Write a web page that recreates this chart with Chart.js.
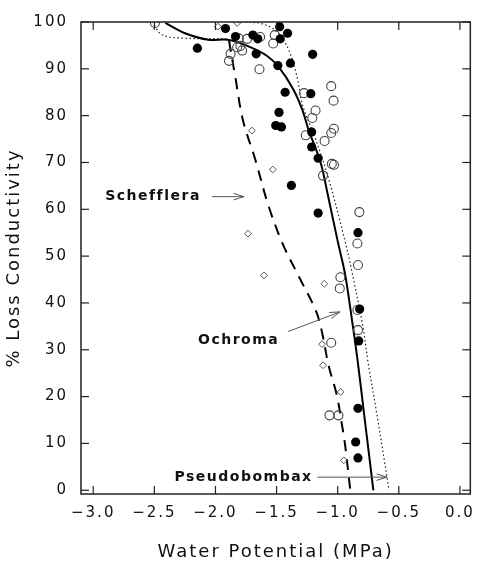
<!DOCTYPE html>
<html>
<head>
<meta charset="utf-8">
<script src="https://cdn.jsdelivr.net/npm/chart.js@4"></script>
<style>
  body { margin: 0; background: #fff; }
</style>
</head>
<body>
<canvas id="myChart" width="482" height="565"></canvas>
<script>
// filled circles (Ochroma)
let ochromaX = [-2.148, -1.918, -1.836, -1.694, -1.654, -1.667, -1.475, -1.47, -1.41, -1.49, -1.387, -1.205, -1.43, -1.22, -1.48, -1.507, -1.46, -1.213, -1.213, -1.16, -1.379, -1.16, -0.834, -0.82, -0.828, -0.834, -0.853, -0.834]
let ochromaY = [94.4, 98.6, 96.9, 97.2, 96.4, 93.2, 99.0, 96.4, 97.6, 90.7, 91.2, 93.1, 85.0, 84.7, 80.7, 77.9, 77.6, 76.5, 73.3, 70.9, 65.1, 59.2, 55.0, 38.7, 31.9, 17.5, 10.3, 6.9]

// open circles (Pseudobombax)
let pseudoX = [-2.495, -1.81, -1.74, -1.635, -1.515, -1.528, -1.822, -1.796, -1.782, -1.876, -1.889, -1.64, -1.275, -1.053, -1.034, -1.181, -1.208, -1.261, -1.053, -1.031, -1.107, -1.048, -1.03, -1.12, -0.823, -0.839, -0.834, -0.978, -0.983, -0.839, -0.834, -1.053, -1.067, -0.994]
let pseudoY = [99.8, 96.5, 96.4, 96.8, 97.2, 95.4, 94.6, 94.9, 93.9, 93.2, 91.7, 89.9, 84.8, 86.3, 83.2, 81.1, 79.5, 75.8, 76.3, 77.2, 74.6, 69.7, 69.5, 67.2, 59.4, 52.7, 48.1, 45.5, 43.1, 38.5, 34.2, 31.5, 16.0, 16.0]

// diamonds (Schefflera)
let scheffX = [-1.98, -1.822, -1.702, -1.531, -1.734, -1.603, -1.109, -1.128, -1.12, -0.975, -0.949]
let scheffY = [99.0, 99.8, 76.8, 68.5, 54.8, 45.9, 44.1, 31.2, 26.7, 21.0, 6.4]

// fitted curves
let solidX = [-2.41, -2.26, -2.06, -1.90, -1.74, -1.58, -1.48, -1.365, -1.29, -1.24, -1.14, -1.08, -1.0, -0.94, -0.887, -0.837, -0.78, -0.708]
let solidY = [99.8, 97.7, 96.2, 96.2, 94.9, 92.8, 90.3, 85.7, 81.3, 77.1, 70.0, 63.0, 53.2, 46.2, 37.1, 27.7, 15.4, 0]

let dottedX = [-2.5, -2.44, -2.3, -1.89, null, -1.82, -1.645, -1.5, -1.4, -1.33, -1.288, -1.181, -1.074, -0.94, -0.874, -0.794, -0.754, -0.674, -0.58]
let dottedY = [99.3, 97.3, 96.6, 96.4, null, 100, 99.8, 98.0, 94.0, 88.0, 82.3, 75.0, 66.5, 53.2, 45.5, 35.0, 27.7, 15.4, 0]

let dashedX = [-1.889, -1.836, -1.775, -1.675, -1.568, -1.448, -1.315, -1.181, -1.133, -1.074, -1.007, -0.967, -0.94, -0.897]
let dashedY = [96.0, 88.0, 79.0, 70.7, 60.9, 52.5, 45.5, 38.5, 34.3, 26.6, 20.3, 14.3, 9.8, 0]

let xTicks = [-3.0, -2.5, -2.0, -1.5, -1.0, -0.5, 0.0]
let yTicks = [0, 10, 20, 30, 40, 50, 60, 70, 80, 90, 100]

let puntos = function (xs, ys) {
    return xs.map((x, i) => x === null ? { x: NaN, y: NaN } : { x: x, y: ys[i] })
}

// labels with arrows, in data units
let notas = [
    { texto: 'Schefflera', x: -2.511, y: 62.7, align: 'center', desde: [-2.03, 62.7], hasta: [-1.766, 62.7] },
    { texto: 'Ochroma', x: -2.143, y: 32.0, align: 'left', desde: [-1.405, 33.9], hasta: [-0.981, 38.1] },
    { texto: 'Pseudobombax', x: -1.205, y: 2.8, align: 'right', desde: [-1.165, 2.8], hasta: [-0.596, 2.8] }
]

let marcos = {
    id: 'marcos',
    beforeDraw: function (chart) {
        chart.ctx.letterSpacing = '2px'
    },
    afterDraw: function (chart) {
        let ctx = chart.ctx
        let a = chart.chartArea
        let xs = chart.scales.x
        let ys = chart.scales.y
        let linea = function (x1, y1, x2, y2) {
            ctx.beginPath(); ctx.moveTo(x1, y1); ctx.lineTo(x2, y2); ctx.stroke()
        }
        ctx.save()
        ctx.strokeStyle = '#222'
        ctx.lineWidth = 1.5
        ctx.strokeRect(a.left, a.top, a.right - a.left, a.bottom - a.top)
        ctx.lineWidth = 1.2
        xTicks.forEach(v => {
            let p = xs.getPixelForValue(v)
            linea(p, a.bottom, p, a.bottom - 8)
            linea(p, a.top, p, a.top + 8)
        })
        yTicks.forEach(v => {
            let p = ys.getPixelForValue(v)
            linea(a.left, p, a.left + 8, p)
            linea(a.right, p, a.right - 8, p)
        })

        ctx.font = 'bold 14px "DejaVu Sans"'
        ctx.letterSpacing = '1.5px'
        ctx.fillStyle = '#111'
        ctx.textBaseline = 'middle'
        notas.forEach(n => {
            ctx.textAlign = n.align
            ctx.fillText(n.texto, xs.getPixelForValue(n.x), ys.getPixelForValue(n.y))
            let x1 = xs.getPixelForValue(n.desde[0]), y1 = ys.getPixelForValue(n.desde[1])
            let x2 = xs.getPixelForValue(n.hasta[0]), y2 = ys.getPixelForValue(n.hasta[1])
            ctx.strokeStyle = '#555'
            ctx.lineWidth = 1
            linea(x1, y1, x2, y2)
            let ang = Math.atan2(y2 - y1, x2 - x1)
            linea(x2, y2, x2 - 11 * Math.cos(ang - 0.3), y2 - 11 * Math.sin(ang - 0.3))
            linea(x2, y2, x2 - 11 * Math.cos(ang + 0.3), y2 - 11 * Math.sin(ang + 0.3))
        })
        ctx.restore()
    }
}

let miGrafico = new Chart('myChart', {
    type: 'scatter',
    data: {
        datasets: [
            {
                label: 'Ochroma',
                data: puntos(ochromaX, ochromaY),
                pointRadius: 4.6,
                pointBackgroundColor: '#000',
                pointBorderColor: '#000',
                pointBorderWidth: 0,
                order: 1
            },
            {
                label: 'Pseudobombax',
                data: puntos(pseudoX, pseudoY),
                pointRadius: 4.5,
                pointBackgroundColor: 'rgba(0,0,0,0)',
                pointBorderColor: '#444',
                pointBorderWidth: 1.1,
                order: 1
            },
            {
                label: 'Schefflera',
                data: puntos(scheffX, scheffY),
                pointStyle: 'rectRot',
                pointRadius: 3.4,
                pointBackgroundColor: 'rgba(0,0,0,0)',
                pointBorderColor: '#555',
                pointBorderWidth: 1,
                order: 1
            },
            {
                label: 'curva Ochroma',
                data: puntos(solidX, solidY),
                showLine: true,
                borderColor: '#000',
                borderWidth: 2,
                pointRadius: 0,
                tension: 0.35,
                order: 2
            },
            {
                label: 'curva Pseudobombax',
                data: puntos(dottedX, dottedY),
                showLine: true,
                spanGaps: false,
                borderColor: '#222',
                borderWidth: 1.2,
                borderDash: [1.5, 2.5],
                pointRadius: 0,
                tension: 0.35,
                order: 2
            },
            {
                label: 'curva Schefflera',
                data: puntos(dashedX, dashedY),
                showLine: true,
                borderColor: '#000',
                borderWidth: 2,
                borderDash: [11, 8],
                pointRadius: 0,
                tension: 0.35,
                order: 2
            }
        ]
    },
    options: {
        responsive: false,
        animation: false,
        devicePixelRatio: 1,
        layout: { padding: { top: 15, right: 4, left: 0, bottom: 0 } },
        plugins: {
            legend: { display: false },
            tooltip: { enabled: false }
        },
        scales: {
            x: {
                type: 'linear',
                min: -3.1,
                max: 0.085,
                afterFit: s => { s.height = 71 },
                afterBuildTicks: s => { s.ticks = xTicks.map(v => ({ value: v })) },
                grid: { display: false, drawTicks: false },
                border: { display: false },
                ticks: {
                    padding: 10,
                    color: '#111',
                    font: { family: 'DejaVu Sans', size: 15 },
                    maxRotation: 0,
                    callback: v => v === 0 ? '0.0' : '\u2212' + Math.abs(v).toFixed(1)
                },
                title: {
                    display: true,
                    text: 'Water Potential (MPa)',
                    color: '#111',
                    font: { family: 'DejaVu Sans', size: 18 },
                    padding: { top: 0, bottom: 2 }
                }
            },
            y: {
                type: 'linear',
                min: -0.8,
                max: 100,
                afterFit: s => { s.width = 81 },
                afterBuildTicks: s => { s.ticks = yTicks.map(v => ({ value: v })) },
                grid: { display: false, drawTicks: false },
                border: { display: false },
                ticks: {
                    padding: 13,
                    color: '#111',
                    font: { family: 'DejaVu Sans', size: 15 }
                },
                title: {
                    display: true,
                    text: '% Loss Conductivity',
                    color: '#111',
                    font: { family: 'DejaVu Sans', size: 18 },
                    padding: { top: 4, bottom: 0 }
                }
            }
        }
    },
    plugins: [marcos]
})
</script>
</body>
</html>
